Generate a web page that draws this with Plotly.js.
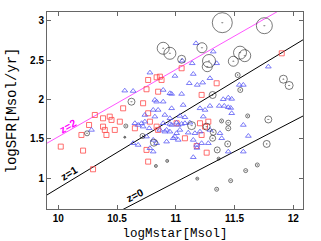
<!DOCTYPE html>
<html><head><meta charset="utf-8">
<script src="https://cdn.plot.ly/plotly-3.0.1.min.js"></script>
<style>html,body{margin:0;padding:0;background:#fff}#c{width:321px;height:241px}</style>
</head><body><div id="c"></div>
<script>
var circX = [11.396,11.754,10.893,10.95,11.223,11.05,11.283,11.268,11.547,11.587,11.49,11.527,11.549,11.916,11.965,11.314,11.612,11.788,10.623,11.135,11.263,11.39,11.447,11.447,11.319,11.314,11.442,11.353,11.774,11.365,11.694,11.595,11.467,11.183,11.348,10.927,10.575,10.717,10.245,10.566,10.814,10.831];
var circY = [2.978,2.94,2.653,2.589,2.66,2.513,2.491,2.419,2.597,2.559,2.488,2.313,2.123,2.26,2.18,2.059,1.793,1.748,1.974,1.67,1.656,1.729,1.707,1.636,1.585,1.509,1.437,1.361,1.437,1.25,1.17,1.098,0.97,0.996,0.861,1.221,1.665,1.538,1.572,1.522,1.453,1.157];
var circS = [20,16,12,12,10,8,13,10,13,12,10,5,5,8,8,7,4,7,7,8,7,4,5,5,6,6,6,6,7,3,4,4,4,3,4,3,4,5,5,2,7,3];

var triX = [10.780,10.566,10.637,10.822,10.837,10.808,10.737,10.850,10.950,10.893,10.907,10.950,10.822,10.652,10.680,10.709,10.737,10.965,11.021,10.922,10.950,10.993,10.751,10.808,11.172,11.319,11.055,11.140,11.348,11.788,11.149,10.993,11.229,11.183,11.115,11.291,11.541,11.575,10.965,11.050,11.404,11.447,11.476,10.893,11.063,10.965,11.206,11.249,11.291,11.370,11.413,11.447,11.468,11.035,11.078,11.234,11.476,10.893,10.950,11.007,11.050,11.078,11.120,10.865,10.907,11.007,11.035,11.106,11.163,11.206,11.291,10.922,10.978,11.021,11.149,11.178,11.220,11.277,11.376,11.391,11.575,11.618,11.575,11.447,11.149,11.180,10.637,10.680,10.722,10.774,10.283,10.780,10.808,10.837];
var triY = [2.343,2.114,2.110,1.996,1.974,1.869,1.805,1.869,2.081,1.974,1.805,1.763,1.784,1.700,1.678,1.700,1.720,1.678,1.678,1.615,1.593,1.530,1.530,1.488,2.716,2.610,2.495,2.462,2.462,2.419,2.326,2.301,2.216,2.187,2.208,2.272,2.187,2.187,2.072,2.072,2.005,2.025,2.009,2.123,1.932,1.890,1.890,1.869,1.920,1.920,1.920,1.903,1.894,1.793,1.776,1.784,1.827,1.700,1.691,1.707,1.691,1.700,1.707,1.615,1.593,1.573,1.615,1.580,1.573,1.593,1.615,1.466,1.509,1.488,1.488,1.424,1.446,1.446,1.573,1.509,1.678,1.538,1.339,1.339,1.268,1.386,1.446,1.424,1.657,1.636,1.615,1.382,1.339,1.446];

var sqX = [10.765,10.837,10.751,10.722,10.552,10.311,10.438,10.865,10.879,10.850,10.765,10.780,10.837,10.381,10.453,10.381,10.396,10.524,10.481,10.652,10.021,10.197,10.262,10.410,10.296,10.751,10.765,10.850,10.211,11.206,11.249,11.220,11.178,11.263,11.078,11.348,11.220,11.007,11.277,11.902,11.050];
var sqY = [2.250,2.284,2.132,1.954,1.890,1.805,1.784,2.292,2.250,2.101,1.827,1.720,1.657,1.763,1.742,1.657,1.615,1.720,1.615,1.636,1.403,1.551,1.678,1.551,1.115,1.361,1.212,1.615,1.352,1.700,1.657,1.551,1.411,1.326,1.509,2.208,2.060,1.700,1.720,2.589,2.399];

var lineX = [9.9, 12.1];
var z0Y = [0.10, 1.805];
var z1Y = [0.785, 2.776];
var z2Y = [1.443, 3.32];

var xTicks = [10, 10.5, 11, 11.5, 12];
var yTicks = [1, 1.5, 2, 2.5, 3];

var traces = [
  {x: lineX, y: z0Y, mode: 'lines', line: {color: '#000', width: 1}, hoverinfo: 'skip'},
  {x: lineX, y: z1Y, mode: 'lines', line: {color: '#000', width: 1}, hoverinfo: 'skip'},
  {x: lineX, y: z2Y, mode: 'lines', line: {color: '#ff55ff', width: 1}, hoverinfo: 'skip'},
  {x: sqX, y: sqY, mode: 'markers', marker: {symbol: 'square-open', size: 5, color: '#ff4a4a', line: {width: 0.8}}},
  {x: triX, y: triY, mode: 'markers', marker: {symbol: 'triangle-up-open', size: 5, color: '#5a5af5', line: {width: 0.8}}},
  {x: circX, y: circY, mode: 'markers', marker: {symbol: 'circle-open-dot', size: circS, color: '#111', line: {width: 0.8}}}
];

var axBase = {showline: true, linecolor: '#666', linewidth: 1, mirror: 'ticks', ticks: 'inside', ticklen: 4, tickcolor: '#666', showgrid: false, zeroline: false,
  tickfont: {family: 'Liberation Sans, Arial, sans-serif', size: 10, color: '#000', weight: 'bold'}};

var layout = {
  width: 321, height: 241,
  margin: {l: 47, r: 18, t: 12, b: 32},
  paper_bgcolor: '#fff', plot_bgcolor: '#fff',
  showlegend: false,
  xaxis: Object.assign({}, axBase, {range: [9.904, 12.083], tickvals: xTicks, ticktext: xTicks.map(String),
    title: {text: 'logMstar[Msol]', font: {family: 'Liberation Mono, Courier New, monospace', size: 12.5, color: '#000'}, standoff: 6}}),
  yaxis: Object.assign({}, axBase, {range: [0.61, 3.114], tickvals: yTicks, ticktext: yTicks.map(String),
    title: {text: 'logSFR[Msol/yr]', font: {family: 'Liberation Mono, Courier New, monospace', size: 14, color: '#000'}, standoff: 10}}),
  annotations: [
    {x: 10.08, y: 1.67, text: 'z=2', showarrow: false, textangle: -30, font: {family: 'Liberation Sans, Arial, sans-serif', size: 10.5, color: '#ff00ff', weight: 'bold'}},
    {x: 10.089, y: 1.07, text: 'z=1', showarrow: false, textangle: -31, font: {family: 'Liberation Sans, Arial, sans-serif', size: 10.5, color: '#000', weight: 'bold'}},
    {x: 10.652, y: 0.79, text: 'z=0', showarrow: false, textangle: -27, font: {family: 'Liberation Sans, Arial, sans-serif', size: 10.5, color: '#000', weight: 'bold'}}
  ]
};

Plotly.newPlot('c', traces, layout, {staticPlot: true, displayModeBar: false});
</script></body></html>
